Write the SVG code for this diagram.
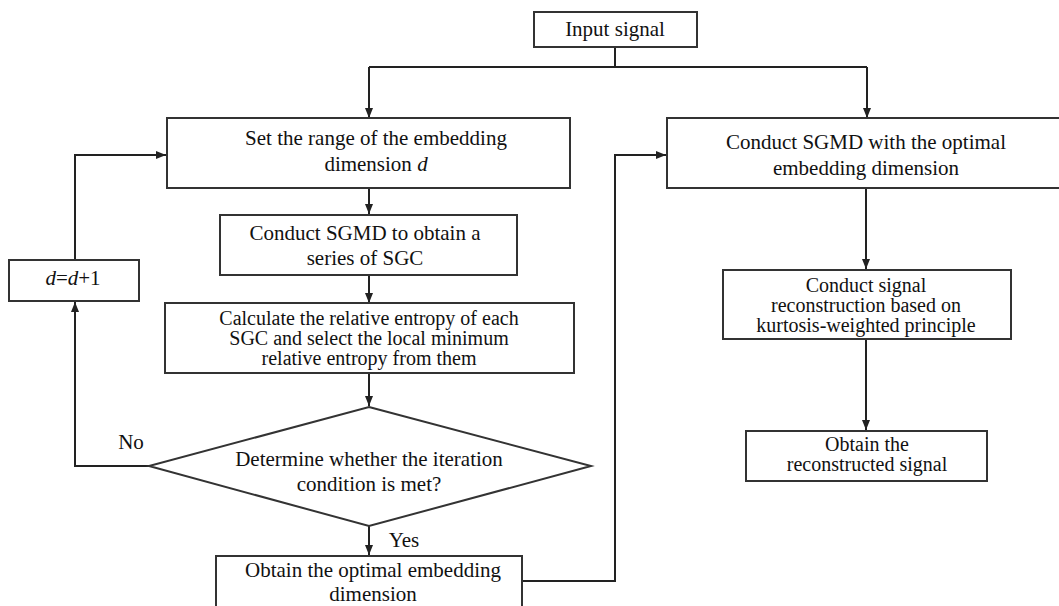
<svg xmlns="http://www.w3.org/2000/svg" width="1059" height="606" viewBox="0 0 1059 606">
<style>
.box{fill:#fff;stroke:#333;stroke-width:2}
.ln{fill:none;stroke:#222;stroke-width:2}
text{font-family:'Liberation Serif','Tinos','Noto Serif','DejaVu Serif',serif;font-size:21px;fill:#111;text-anchor:middle}
.tight{font-size:20px}
.it{font-style:italic}
</style>
<defs>
<marker id="ah" viewBox="0 0 10 10" refX="10" refY="5" markerWidth="10" markerHeight="10" markerUnits="userSpaceOnUse" orient="auto">
<path d="M0,1 L10,5 L0,9 Z" fill="#222"/>
</marker>
</defs>
<rect width="1059" height="606" fill="#fff"/>
<g id="connectors">
<path class="ln" d="M615,47 V67"/>
<path class="ln" d="M369,67 H867"/>
<path class="ln" d="M369,67 V118" marker-end="url(#ah)"/>
<path class="ln" d="M867,67 V118" marker-end="url(#ah)"/>
<path class="ln" d="M369,188 V214" marker-end="url(#ah)"/>
<path class="ln" d="M369,275 V303" marker-end="url(#ah)"/>
<path class="ln" d="M369,373 V406" marker-end="url(#ah)"/>
<path class="ln" d="M369,526 V555" marker-end="url(#ah)"/>
<path class="ln" d="M149,466 H75 V302" marker-end="url(#ah)"/>
<path class="ln" d="M75,260 V155 H166" marker-end="url(#ah)"/>
<path class="ln" d="M522,581 H615 V155 H666" marker-end="url(#ah)"/>
<path class="ln" d="M866,188 V269" marker-end="url(#ah)"/>
<path class="ln" d="M866,339 V430" marker-end="url(#ah)"/>
<text x="131" y="449">No</text>
<text x="404" y="547">Yes</text>
</g>
<g id="input">
<rect class="box" x="534" y="12" width="163" height="35"/>
<text x="615" y="36">Input signal</text>
</g>
<g id="setRange">
<rect class="box" x="167" y="118" width="403" height="70"/>
<text x="376" y="145">Set the range of the embedding</text>
<text x="376" y="171">dimension <tspan class="it">d</tspan></text>
</g>
<g id="sgmdOptimal">
<rect class="box" x="667" y="118" width="396" height="70"/>
<text x="866" y="149">Conduct SGMD with the optimal</text>
<text x="866" y="175">embedding dimension</text>
</g>
<g id="sgmdSeries">
<rect class="box" x="220" y="215" width="297" height="60"/>
<text x="365" y="240">Conduct SGMD to obtain a</text>
<text x="365" y="265">series of SGC</text>
</g>
<g id="increment">
<rect class="box" x="9" y="260" width="130" height="41"/>
<text x="73" y="285"><tspan class="it">d</tspan>=<tspan class="it">d</tspan>+1</text>
</g>
<g id="entropy">
<rect class="box" x="165" y="303" width="409" height="70"/>
<text class="tight" x="369" y="325">Calculate the relative entropy of each</text>
<text class="tight" x="369" y="345">SGC and select the local minimum</text>
<text class="tight" x="369" y="365">relative entropy from them</text>
</g>
<g id="decision">
<polygon class="box" points="369,407 591,466 369,526 149,466"/>
<text x="369" y="466">Determine whether the iteration</text>
<text x="369" y="491">condition is met?</text>
</g>
<g id="optimalDim">
<rect class="box" x="216" y="556" width="306" height="56"/>
<text x="373" y="577">Obtain the optimal embedding</text>
<text x="373" y="601">dimension</text>
</g>
<g id="reconstruct">
<rect class="box" x="723" y="270" width="288" height="69"/>
<text class="tight" x="866" y="292">Conduct signal</text>
<text class="tight" x="866" y="312">reconstruction based on</text>
<text class="tight" x="866" y="332">kurtosis-weighted principle</text>
</g>
<g id="result">
<rect class="box" x="746" y="431" width="241" height="50"/>
<text class="tight" x="867" y="451">Obtain the</text>
<text class="tight" x="867" y="471">reconstructed signal</text>
</g>
</svg>
